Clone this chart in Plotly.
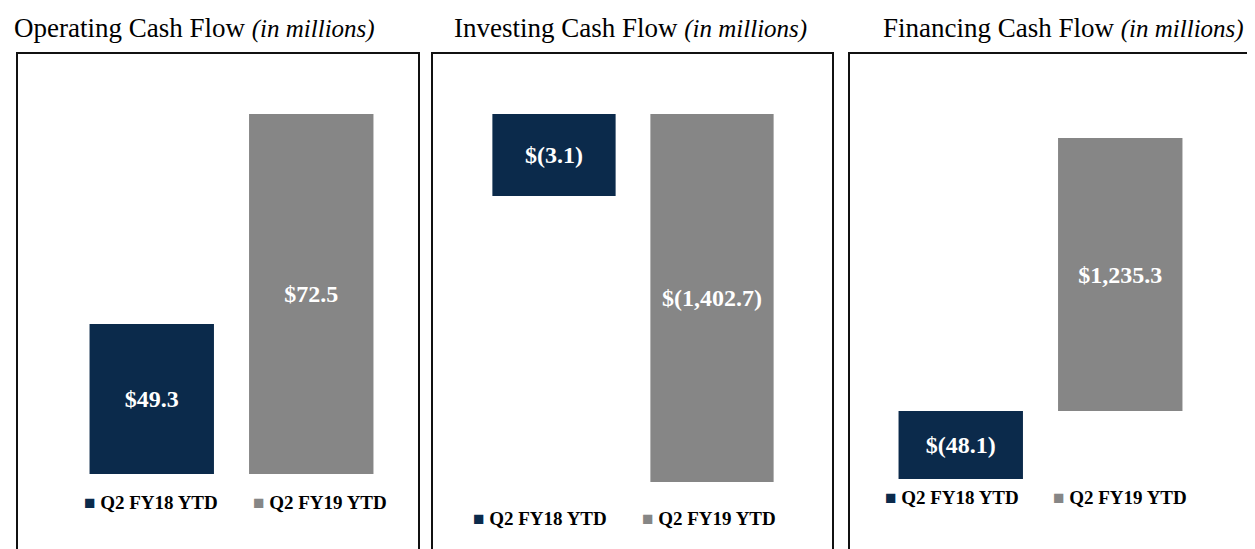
import plotly.graph_objects as go

# ---------------- data ----------------
series = ["Q2 FY18 YTD", "Q2 FY19 YTD"]
panel_titles = ["Operating Cash Flow", "Investing Cash Flow", "Financing Cash Flow"]
title_suffix = "(in millions)"
operating = [49.3, 72.5]
investing = [-3.1, -1402.7]
financing = [-48.1, 1235.3]

# ---------------- styles / layout ----------------
OFF = 8                      # page body margin of the browser
W, H = 1255 - OFF, 549 - OFF
NAVY = "#0b2a4b"
GRAY = "#868686"
colors = [NAVY, GRAY]
SERIF = "Liberation Serif, Times New Roman, serif"


def px_x(p):
    return (p - OFF) / W


def px_y(p):
    return 1 - (p - OFF) / H


def money(v):
    return f"${v:,.1f}" if v >= 0 else f"$({abs(v):,.1f})"


# per panel: x-domain (px), y-domain (px top,bottom), zero line px, bar end px for each series
panels = [
    dict(values=operating, xdom=(72, 391), ydom=(114, 474), zero=474, ends=(324, 114),
         box=(17, 419), title_x=12, legend_y=502, legend_x=(82, 251)),
    dict(values=investing, xdom=(475, 791), ydom=(114, 482), zero=114, ends=(196, 482),
         box=(432, 833), title_x=452, legend_y=518, legend_x=(471, 640)),
    dict(values=financing, xdom=(881, 1200), ydom=(138, 479), zero=411, ends=(479, 138),
         box=(849, 1252), title_x=881, legend_y=497, legend_x=(883, 1051)),
]

fig = go.Figure()
layout = dict(
    width=W, height=H, margin=dict(l=0, r=0, t=0, b=0),
    paper_bgcolor="white", plot_bgcolor="rgba(0,0,0,0)",
    showlegend=False, barmode="overlay",
    font=dict(family=SERIF, color="black"),
)
annotations = []
shapes = []

yi = 0
for pi, p in enumerate(panels):
    xname = "x" if pi == 0 else f"x{pi + 1}"
    xkey = "xaxis" if pi == 0 else f"xaxis{pi + 1}"
    first_y = None
    for si, (name, v) in enumerate(zip(series, p["values"])):
        yi += 1
        yname = "y" if yi == 1 else f"y{yi}"
        ykey = "yaxis" if yi == 1 else f"yaxis{yi}"
        if first_y is None:
            first_y = yname
        # scale: pixels per unit so that value v ends at its bar end pixel
        z = p["zero"]
        s = (z - p["ends"][si]) / v
        top, bot = p["ydom"]
        lo = (z - bot) / s
        hi = (z - top) / s
        yax = dict(range=[lo, hi], domain=[px_y(bot), px_y(top)], visible=False,
                   showgrid=False, zeroline=False, fixedrange=True, anchor=xname)
        if yname != first_y:
            yax["overlaying"] = first_y
        layout[ykey] = yax
        fig.add_trace(go.Bar(
            x=[name], y=[v], xaxis=xname, yaxis=yname, name=name,
            width=0.78, marker=dict(color=colors[si], line=dict(width=0)),
            text=[money(v)], textposition="inside", insidetextanchor="middle",
            textangle=0, constraintext="none",
            textfont=dict(family=SERIF, size=24, color="white", weight="bold"),
            hoverinfo="skip",
        ))
    layout[xkey] = dict(domain=[px_x(p["xdom"][0]), px_x(p["xdom"][1])], anchor=first_y,
                        type="category", categoryorder="array", categoryarray=series,
                        range=[-0.5, 1.5], visible=False, fixedrange=True)

    # panel border (extends below the visible page)
    shapes.append(dict(type="rect", xref="paper", yref="paper",
                       x0=px_x(p["box"][0]), x1=px_x(p["box"][1]),
                       y0=px_y(549 + 40), y1=px_y(53),
                       line=dict(color="#111111", width=2), fillcolor="rgba(0,0,0,0)"))
    # panel title
    annotations.append(dict(
        xref="paper", yref="paper", x=px_x(p["title_x"]), y=px_y(28),
        xanchor="left", yanchor="middle", showarrow=False,
        text=f"{panel_titles[pi]} <i><span style='font-size:25px'>{title_suffix}</span></i>",
        font=dict(family=SERIF, size=27, color="black"),
    ))
    # legend entries
    for si, name in enumerate(series):
        annotations.append(dict(
            xref="paper", yref="paper", x=px_x(p["legend_x"][si]), y=px_y(p["legend_y"]),
            xanchor="left", yanchor="middle", showarrow=False,
            text=f"<span style='color:{colors[si]};font-size:19px'>■</span> {name}",
            font=dict(family=SERIF, size=19, color="black", weight="bold"),
        ))

layout["annotations"] = annotations
layout["shapes"] = shapes
fig.update_layout(**layout)
fig.write_html("out.html")
